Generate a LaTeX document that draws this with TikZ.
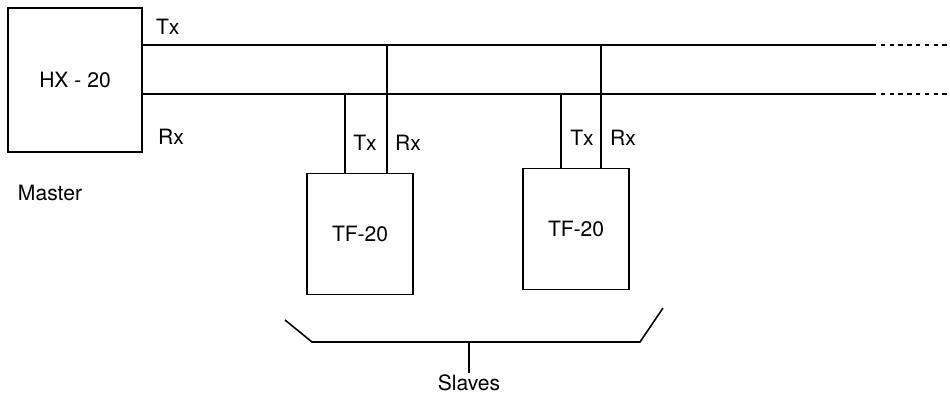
\documentclass[tikz,border=0pt]{standalone}
\usepackage{fontspec}
\setmainfont{TeX Gyre Heros}
\usetikzlibrary{positioning}
\tikzset{
  unit/.style  = {draw, line width=0.9pt, minimum width=2.68cm, minimum height=2.88cm,
                  font=\large},
  slave/.style = {unit, minimum width=2.12cm, minimum height=2.42cm},
  wire/.style  = {line width=0.9pt},
  more/.style  = {line width=0.9pt, dash pattern=on 2.5pt off 2.5pt},
  lbl/.style   = {inner sep=1pt, font=\large},
}

\begin{document}
\begin{tikzpicture}[x=0.02cm,y=-0.02cm]
  \useasboundingbox (0,0) rectangle (950,396);
  \node[unit] (master) at (75,80) {HX - 20};
  \node[lbl] (mlab) at (50,193) {Master};
  \node[slave] (s1) at (360,234) {TF-20};
  \node[slave] (s2) at (576,229) {TF-20};
  % bus lines
  \coordinate (txL) at (master.east |- 0,45);
  \coordinate (rxL) at (master.east |- 0,94);
  \coordinate (txR) at (872,45);
  \coordinate (rxR) at (872,94);
  \coordinate (txE) at (950,45);
  \coordinate (rxE) at (950,94);
  \draw[wire] (txL) -- (txR);
  \draw[wire] (rxL) -- (rxR);
  \draw[more] (txR) -- (txE);
  \draw[more] (rxR) -- (rxE);
  \node[lbl, anchor=west] (mtx) at (154,27) {Tx};
  \node[lbl, anchor=west] (mrx) at (156,137) {Rx};
  % slave taps
  \coordinate (t1) at (345,94);
  \coordinate (r1) at (387,45);
  \coordinate (t2) at (561,94);
  \coordinate (r2) at (601,45);
  \draw[wire] (t1) -- (t1 |- s1.north);
  \draw[wire] (r1) -- (r1 |- s1.north);
  \draw[wire] (t2) -- (t2 |- s2.north);
  \draw[wire] (r2) -- (r2 |- s2.north);
  \node[lbl] (s1tx) at (365,143) {Tx};
  \node[lbl] (s1rx) at (408,143) {Rx};
  \node[lbl] (s2tx) at (582,138) {Tx};
  \node[lbl] (s2rx) at (623,138) {Rx};
  % brace
  \coordinate (bl) at (285,320);
  \coordinate (br) at (663,308);
  \coordinate (bm) at (469,342);
  \node[lbl] (slaves) at (469,383) {Slaves};
  \draw[wire] (bl) -- (312,342) -- (640,342) -- (br);
  \draw[wire] (bm) -- (slaves.north);
\end{tikzpicture}
\end{document}
